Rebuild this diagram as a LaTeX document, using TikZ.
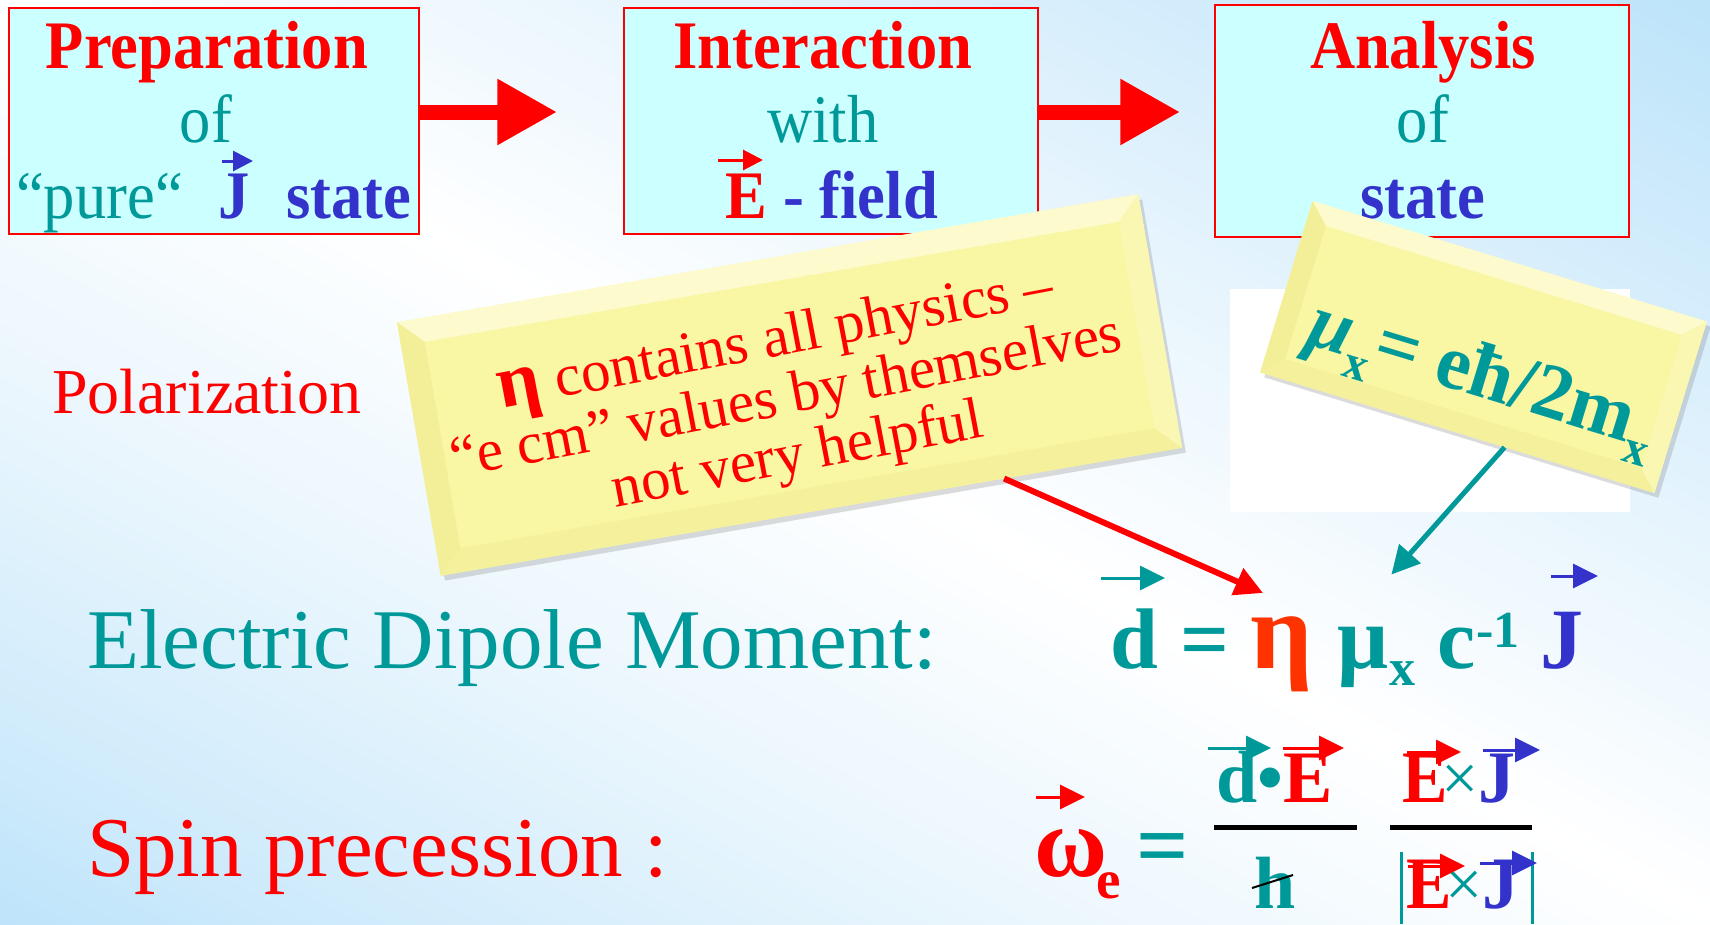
\documentclass[tikz,border=0pt]{standalone}
\usepackage{fontspec}
\setmainfont{Liberation Serif}
\newfontfamily\titlefont[FakeStretch=0.92]{Liberation Serif}
\usetikzlibrary{arrows.meta,calc,shadows}
\definecolor{bxfill}{RGB}{204,255,255}
\definecolor{myred}{RGB}{255,0,0}
\definecolor{myteal}{RGB}{0,153,153}
\definecolor{myblue}{RGB}{51,51,204}
\definecolor{etared}{RGB}{255,51,0}
\definecolor{bg0}{RGB}{160,215,250}
\definecolor{bg1}{RGB}{174,222,250}
\definecolor{bg2}{RGB}{205,234,251}
\definecolor{bg3}{RGB}{234,246,253}
\definecolor{bg7}{RGB}{230,244,253}
\definecolor{bg8}{RGB}{203,233,251}
\definecolor{bg9}{RGB}{178,224,248}
\definecolor{bgz}{RGB}{168,219,248}
\definecolor{ylw}{RGB}{249,246,164}
\definecolor{bvT}{RGB}{253,251,205}
\definecolor{bvL}{RGB}{243,239,152}
\definecolor{bvB}{RGB}{244,240,156}
\definecolor{bvR}{RGB}{250,247,178}
\pgfdeclarehorizontalshading{bgshade}{100bp}{color(0bp)=(bg0); color(10bp)=(bg1); color(22bp)=(bg2); color(36bp)=(bg3); color(50bp)=(white); color(64bp)=(bg7); color(77bp)=(bg8); color(89bp)=(bg9); color(100bp)=(bgz)}
\newcommand\myfs[1]{\fontsize{#1}{#1}\selectfont}
\newcommand\mybevel[2]{%
  \fill[bvT] (#1.north west) -- (#1.north east) -- (#2.north east) -- (#2.north west) -- cycle;
  \fill[bvL] (#1.north west) -- (#2.north west) -- (#2.south west) -- (#1.south west) -- cycle;
  \fill[bvB] (#1.south west) -- (#2.south west) -- (#2.south east) -- (#1.south east) -- cycle;
  \fill[bvR] (#1.north east) -- (#1.south east) -- (#2.south east) -- (#2.north east) -- cycle;
}
\tikzset{
  box/.style={draw=myred, line width=1.5pt, fill=bxfill, inner sep=0},
  ttl/.style={anchor=base, inner sep=0, font=\titlefont\bfseries\myfs{68}, text=myred},
  subw/.style={anchor=base, inner sep=0, font=\titlefont\myfs{68}, text=myteal},
  g/.style={anchor=base west, inner sep=0},
  vec/.style={line width=3pt, -{Triangle[length=20pt,width=20pt]}},
  vecb/.style={line width=3pt, -{Triangle[length=25pt,width=24pt]}},
  bigarrow/.style={draw=myred, line width=15pt, -{Triangle[length=60pt,width=62pt]}},
  conn/.style={line width=6pt, -{Triangle[length=28pt,width=28pt]}},
  noteouter/.style={fill=ylw, inner sep=0, drop shadow={shadow xshift=4pt, shadow yshift=-5pt, opacity=0.28}},
  noteinner/.style={fill=ylw, inner sep=0},
  bar/.style={line width=5pt, black},
}
\begin{document}
\begin{tikzpicture}[x=1pt,y=-1pt]
\useasboundingbox (0,0) rectangle (1710,924);
\shade[shading=bgshade, shading angle=62] (0,0) rectangle (1710,924);
\fill[white] (1230,289) rectangle (1630,512);

% top boxes
\node[box, minimum width=410pt, minimum height=226pt] (b1) at (214,121) {};
\node[box, minimum width=414pt, minimum height=226pt] (b2) at (831,121) {};
\node[box, minimum width=414pt, minimum height=232pt] (b3) at (1422,121) {};

\node[ttl] (p1) at (207,68) {Preparation};
\node[subw] (p2) at (206,142) {of};
\node[g, font=\titlefont\myfs{68}, text=myteal] (p3) at (16,218) {“pure“};
\node[g, font=\titlefont\bfseries\myfs{68}, text=myblue] (p4) at (218,218) {J};
\node[g, font=\titlefont\bfseries\myfs{68}, text=myblue] (p5) at (286,218) {state};
\draw[vec, myblue] (222,161) -- (253,161);

\node[ttl] (i1) at (823,68) {Interaction};
\node[subw] (i2) at (823,142) {with};
\node[g, font=\titlefont\bfseries\myfs{68}, text=myred] (i3) at (725,218) {E};
\node[g, font=\titlefont\bfseries\myfs{68}, text=myblue] (i4) at (783,218) {- field};
\draw[vec, myred] (718,160) -- (763,160);

\node[ttl] (a1) at (1423,68) {Analysis};
\node[subw] (a2) at (1423,142) {of};
\node[anchor=base, inner sep=0, font=\titlefont\bfseries\myfs{68}, text=myblue] (a3) at (1423,218) {state};

\draw[bigarrow, shorten >=66pt] ([yshift=9pt]b1.east) -- ([yshift=9pt]b2.west);
\draw[bigarrow, shorten >=34pt] ([yshift=9pt]b2.east) -- ([yshift=9pt]b3.west);

% left labels
\node[g, font=\myfs{64}, text=myred] (pol) at (52,413) {Polarization};
\node[g, font=\myfs{85}, text=myteal] (edm) at (87,668) {Electric Dipole Moment:};
\node[g, font=\myfs{85}, text=myred] (spin) at (87,876) {Spin precession :};

% formula 1
\node[g, font=\bfseries\myfs{86}, text=myteal] (fd) at (1110,668) {d};
\node[g, font=\bfseries\myfs{86}, text=myteal] (feq) at (1180,668) {=};
\node[g, font=\bfseries\myfs{110}, text=etared] (feta) at (1250,668) {η};
\node[g, font=\bfseries\myfs{90}, text=myteal] (fmu) at (1337,668) {μ};
\node[g, font=\bfseries\myfs{52}, text=myteal] (fmx) at (1389,685) {x};
\node[g, font=\bfseries\myfs{86}, text=myteal] (fc) at (1437,668) {c};
\node[g, font=\bfseries\myfs{52}, text=myteal] (fexp) at (1476,647) {-1};
\node[g, font=\bfseries\myfs{86}, text=myblue] (fJ) at (1540,668) {J};
\draw[vecb, myteal] (1101,578) -- (1165,578);
\draw[vecb, myblue] (1551,576) -- (1598,576);

% formula 2
\node[g, font=\bfseries\myfs{100}, text=myred] (w) at (1034,876) {ω};
\node[g, font=\bfseries\myfs{55}, text=myred] (we) at (1096,898) {e};
\draw[vecb, myred] (1036,797) -- (1085,797);
\node[g, font=\bfseries\myfs{92}, text=myteal] (weq) at (1136,876) {=};
\draw[bar] (1214,827) -- (1357,827);
\draw[bar] (1390,827) -- (1532,827);
\node[g, font=\bfseries\myfs{74}, text=myteal] (n1d) at (1216,802) {d};
\node[g, font=\bfseries\myfs{74}, text=myteal] (n1b) at (1257,802) {•};
\node[g, font=\bfseries\myfs{74}, text=myred] (n1e) at (1283,802) {E};
\draw[vecb, myteal] (1208,748) -- (1271,748);
\draw[vecb, myred] (1283,748) -- (1344,748);
\node[g, font=\bfseries\myfs{74}, text=myteal] (d1h) at (1254,908) {h};
\draw[line width=2pt, black] (1252,888) -- (1293,875);
\node[g, font=\titlefont\bfseries\myfs{74}, text=myred] (n2e) at (1402,802) {E};
\node[g, font=\myfs{66}, text=myteal] (n2x) at (1441,800) {×};
\node[g, font=\bfseries\myfs{74}, text=myblue] (n2j) at (1478,802) {J};
\draw[vecb, myred] (1407,752) -- (1461,752);
\draw[vecb, myblue] (1483,750) -- (1540,750);
\node[g, font=\titlefont\bfseries\myfs{74}, text=myred] (d2e) at (1406,908) {E};
\node[g, font=\myfs{66}, text=myteal] (d2x) at (1445,906) {×};
\node[g, font=\bfseries\myfs{74}, text=myblue] (d2j) at (1482,908) {J};
\draw[line width=3pt, myteal] (1401,852) -- (1401,924);
\draw[line width=3pt, myteal] (1532,852) -- (1532,924);
\draw[vecb, myred] (1408,866) -- (1465,866);
\draw[vecb, myblue] (1480,863) -- (1537,863);

% note 1
\node[noteouter, minimum width=752pt, minimum height=257pt, rotate=9.8] (note1) at (789.5,385) {};
\node[noteinner, minimum width=704pt, minimum height=209pt, rotate=9.8] (note1i) at (789.5,385) {};
\mybevel{note1}{note1i}
\node[rotate=10.8, align=center, text=myred, font=\myfs{59}, inner sep=0] (note1t) at (787,400)
  {\fontsize{59}{73}\selectfont{\bfseries\myfs{76}η} contains all physics –\\“e cm” values by themselves\\not very helpful};

% note 2
\node[noteouter, minimum width=412pt, minimum height=179pt, rotate=-17] (note2) at (1483.5,347) {};
\node[noteinner, minimum width=372pt, minimum height=139pt, rotate=-17] (note2i) at (1483.5,347) {};
\mybevel{note2}{note2i}
\node[rotate=-17, text=myteal, font=\bfseries\myfs{78}, inner sep=0] (note2t) at (1482,380)
  {{\itshape μ}\raisebox{-0.25em}{\myfs{48}x}\kern2pt= eħ/2m\raisebox{-0.25em}{\myfs{48}x}};

% connectors
\draw[conn, myred] ($(note1.south west)!0.76!(note1.south east)$) -- ([xshift=13pt,yshift=23pt]feta.north west);
\draw[conn, myteal, line width=5pt] ($(note2.south west)!0.62!(note2.south east)$) -- ([xshift=3pt,yshift=52pt]fmu.north east);
\end{tikzpicture}
\end{document}
